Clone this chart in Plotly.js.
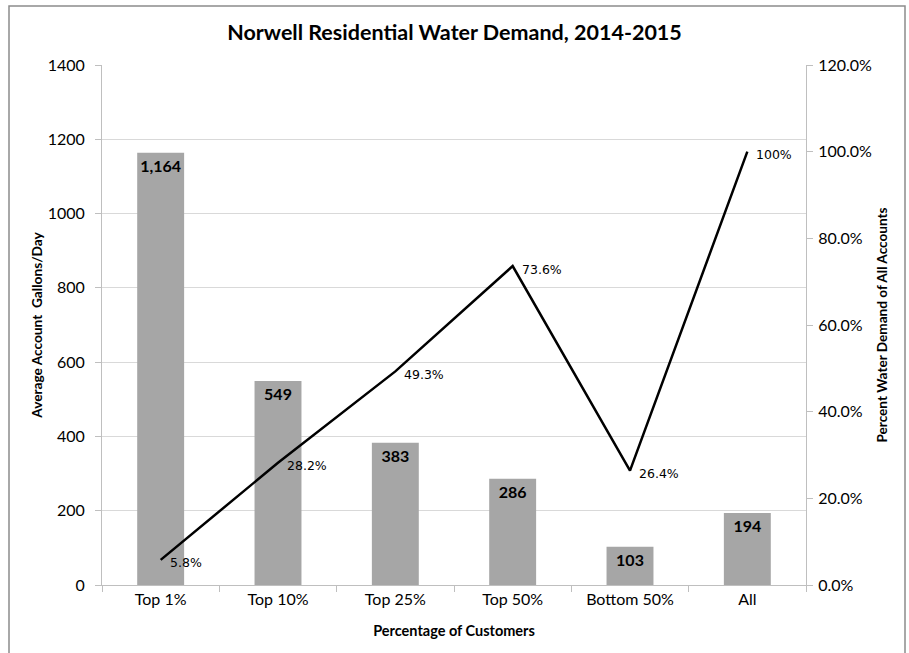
<!DOCTYPE html>
<html>
<head>
<meta charset="utf-8">
<script src="https://cdn.plot.ly/plotly-3.0.1.min.js"></script>
<style>html,body{margin:0;padding:0;background:#fff;}#chart{width:909px;height:653px;}</style>
</head>
<body>
<div id="chart"></div>
<script>
var categories = ['Top 1%', 'Top 10%', 'Top 25%', 'Top 50%', 'Bottom 50%', 'All'];
var gallonsPerDay = [1164, 549, 383, 286, 103, 194];
var percentDemand = [5.8, 28.2, 49.3, 73.6, 26.4, 100];
var percentLabels = ['5.8%', '28.2%', '49.3%', '73.6%', '26.4%', '100%'];

var FONT = 'Lato, Carlito, Calibri, "Open Sans", sans-serif';

var barTrace = {
  type: 'bar',
  x: categories,
  y: gallonsPerDay,
  width: 0.4,
  marker: {color: '#a6a6a6'},
  texttemplate: '<b>%{y:,}</b>',
  textposition: 'inside',
  insidetextanchor: 'end',
  textangle: 0,
  insidetextfont: {family: FONT, size: 16, color: '#000'},
  hoverinfo: 'skip'
};

var lineTrace = {
  type: 'scatter',
  mode: 'lines',
  x: categories,
  y: percentDemand.map(function(v){return v/100;}),
  yaxis: 'y2',
  line: {color: '#000', width: 2.5},
  hoverinfo: 'skip',
  cliponaxis: false
};

var annotations = categories.map(function(c, i){
  return {
    x: c, y: percentDemand[i] / 100, xref: 'x', yref: 'y2',
    text: percentLabels[i], showarrow: false,
    xanchor: 'left', yanchor: 'middle', xshift: 7, yshift: -3,
    font: {family: '"DejaVu Sans", sans-serif', size: 12.5, color: '#000'}
  };
});

var layout = {
  width: 909, height: 653,
  margin: {l: 102, r: 103, t: 65, b: 68},
  paper_bgcolor: '#fff', plot_bgcolor: '#fff',
  showlegend: false,
  font: {family: FONT, color: '#000'},
  title: {text: '<b>Norwell Residential Water Demand, 2014-2015</b>', font: {family: FONT, size: 21.5, color: '#000'}, x: 0.5, xanchor: 'center', y: 0.951, yanchor: 'middle'},
  xaxis: {
    type: 'category',
    showline: true, linecolor: '#bfbfbf', linewidth: 1,
    ticks: 'outside', tickson: 'boundaries', ticklen: 6, tickcolor: '#bfbfbf',
    tickfont: {family: FONT, size: 16, color: '#000'},
    title: {text: '<b>Percentage of Customers</b>', font: {family: FONT, size: 14.5, color: '#000'}, standoff: 18},
    showgrid: false
  },
  yaxis: {
    range: [0, 1400], dtick: 200,
    showline: true, linecolor: '#bfbfbf', linewidth: 1,
    ticks: 'outside', ticklen: 6, tickcolor: '#bfbfbf',
    ticklabelstandoff: 7,
    tickfont: {family: FONT, size: 16, color: '#000'},
    showgrid: true, gridcolor: '#d9d9d9', gridwidth: 1,
    zeroline: false,
    title: {text: '<b>Average Account  Gallons/Day</b>', font: {family: FONT, size: 13.7, color: '#000'}, standoff: 1}
  },
  yaxis2: {
    overlaying: 'y', side: 'right',
    range: [0, 1.2], dtick: 0.2, tickformat: '.1%',
    showline: true, linecolor: '#bfbfbf', linewidth: 1,
    ticks: 'outside', ticklen: 6, tickcolor: '#bfbfbf',
    ticklabelstandoff: 2,
    tickfont: {family: FONT, size: 16, color: '#000'},
    showgrid: false, zeroline: false,
    title: {text: '<b>Percent Water Demand of All Accounts</b>', font: {family: FONT, size: 13.6, color: '#000'}, standoff: 6}
  },
  annotations: annotations,
  shapes: [{
    type: 'rect', xref: 'paper', yref: 'paper',
    x0: (9 - 102) / 704, x1: (905 - 102) / 704,
    y0: (585 - 700) / 520, y1: (585 - 6) / 520,
    line: {color: '#8c8c8c', width: 1.5}, fillcolor: 'rgba(0,0,0,0)', layer: 'below'
  }]
};

Plotly.newPlot('chart', [barTrace, lineTrace], layout, {staticPlot: true, displayModeBar: false});
</script>
</body>
</html>
